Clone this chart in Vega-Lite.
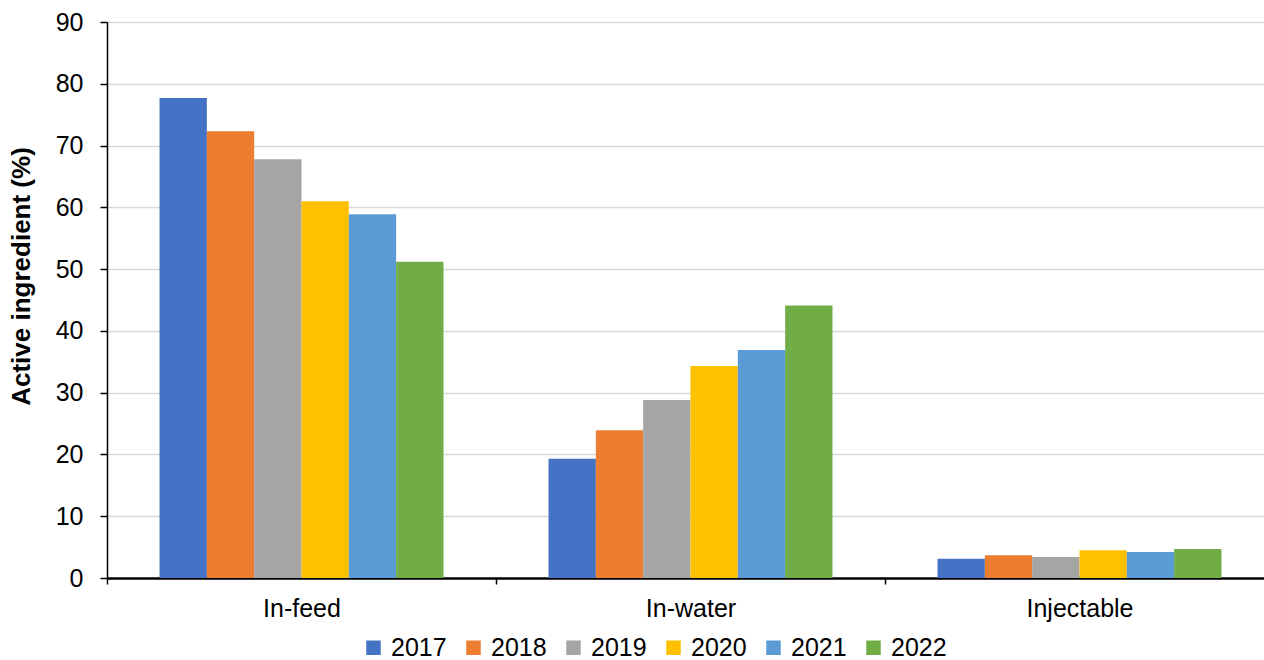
{
  "$schema": "https://vega.github.io/schema/vega-lite/v6.json",
  "autosize": {"type": "none"},
  "width": 1167,
  "height": 556,
  "padding": {"left": 107, "top": 22, "right": -10, "bottom": 82},
  "background": "white",
  "config": {
    "font": "Liberation Sans",
    "view": {"stroke": null}
  },
  "data": {
    "values": [
      {"route": "In-feed", "year": "2017", "value": 77.7},
      {"route": "In-feed", "year": "2018", "value": 72.3},
      {"route": "In-feed", "year": "2019", "value": 67.8},
      {"route": "In-feed", "year": "2020", "value": 61.0},
      {"route": "In-feed", "year": "2021", "value": 58.9},
      {"route": "In-feed", "year": "2022", "value": 51.2},
      {"route": "In-water", "year": "2017", "value": 19.3},
      {"route": "In-water", "year": "2018", "value": 23.9},
      {"route": "In-water", "year": "2019", "value": 28.8},
      {"route": "In-water", "year": "2020", "value": 34.3},
      {"route": "In-water", "year": "2021", "value": 36.9},
      {"route": "In-water", "year": "2022", "value": 44.1},
      {"route": "Injectable", "year": "2017", "value": 3.1},
      {"route": "Injectable", "year": "2018", "value": 3.7},
      {"route": "Injectable", "year": "2019", "value": 3.4},
      {"route": "Injectable", "year": "2020", "value": 4.5},
      {"route": "Injectable", "year": "2021", "value": 4.2},
      {"route": "Injectable", "year": "2022", "value": 4.7}
    ]
  },
  "mark": {"type": "bar"},
  "encoding": {
    "x": {
      "field": "route", "type": "nominal", "sort": null,
      "scale": {"paddingInner": 0, "paddingOuter": 0},
      "axis": {
        "title": null, "labelAngle": 0, "labelFontSize": 25, "labelColor": "#000000",
        "labelPadding": 12,
        "domainColor": "#000000", "domainWidth": 2.5, "tickColor": "#000000", "tickBand": "extent",
        "tickSize": 6, "tickWidth": 1.5, "grid": false
      }
    },
    "xOffset": {
      "field": "year", "type": "nominal",
      "scale": {"domain": ["pad0", "2017", "2018", "2019", "2020", "2021", "2022", "pad1"], "paddingInner": 0, "paddingOuter": 0.11}
    },
    "y": {
      "field": "value", "type": "quantitative",
      "scale": {"domain": [0, 90]},
      "axis": {
        "title": "Active ingredient (%)", "titleFontSize": 26, "titleFontWeight": "bold", "titleColor": "#000000",
        "titlePadding": 21, "titleY": 254,
        "values": [0, 10, 20, 30, 40, 50, 60, 70, 80, 90],
        "labelFontSize": 25, "labelColor": "#000000", "labelPadding": 17,
        "domainColor": "#000000", "domainWidth": 1.5, "tickColor": "#000000", "tickSize": 7, "tickWidth": 1.5,
        "gridColor": "#d9d9d9", "gridWidth": 1.5
      }
    },
    "color": {
      "field": "year", "type": "nominal",
      "scale": {"domain": ["2017", "2018", "2019", "2020", "2021", "2022"], "range": ["#4472c4", "#ed7d31", "#a5a5a5", "#ffc000", "#5b9bd5", "#70ad47"]},
      "legend": {
        "title": null, "orient": "none", "direction": "horizontal", "legendX": 254, "legendY": 613,
        "padding": 0,
        "labelFontSize": 25, "labelColor": "#000000", "symbolType": "square", "symbolSize": 210,
        "symbolStrokeWidth": 0, "columnPadding": 14, "labelOffset": 5
      }
    }
  }
}
